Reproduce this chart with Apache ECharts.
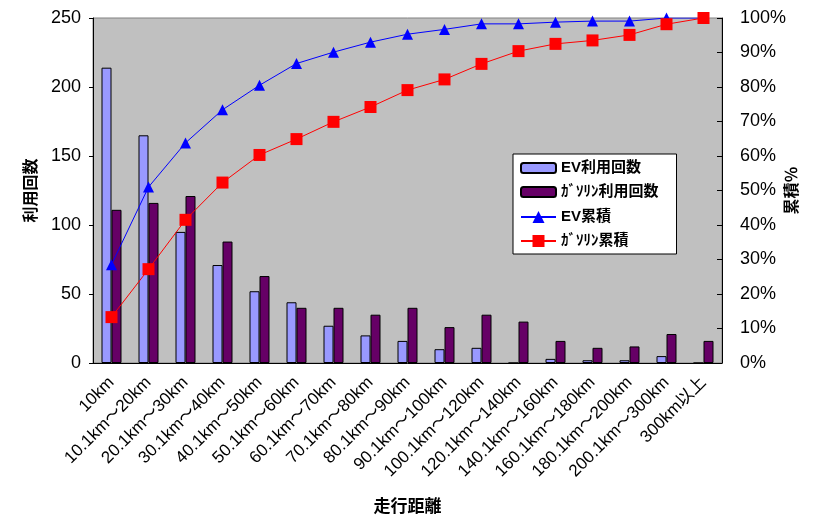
<!DOCTYPE html>
<html><head><meta charset="utf-8">
<script src="https://cdn.jsdelivr.net/npm/echarts@6/dist/echarts.min.js"></script>
<style>html,body{margin:0;padding:0;background:#fff}#c{width:814px;height:517px}</style>
</head><body><div id="c"></div>
<script>
const categories = ['10km','10.1km～20km','20.1km～30km','30.1km～40km','40.1km～50km','50.1km～60km','60.1km～70km','70.1km～80km','80.1km～90km','90.1km～100km','100.1km～120km','120.1km～140km','140.1km～160km','160.1km～180km','180.1km～200km','200.1km～300km','300km以上'];
const evCount = [214,165,95,71,52,44,27,20,16,10,11,0,3,2,2,5,0];
const gasCount = [111,116,121,88,63,40,40,35,40,26,35,30,16,11,12,21,16];
const evCum = [28.5,51,63.8,73.4,80.5,86.8,90.1,93,95.3,96.7,98.3,98.3,98.8,99.1,99.1,100,100];
const gasCum = [13.3,27.2,41.5,52.3,60.3,64.9,69.9,74.2,79.1,82.2,86.7,90.4,92.5,93.5,95.1,98.2,100];
const leftTicks = {min:0, max:250, interval:50};
const rightTicks = {min:0, max:100, interval:10};

const FONT = '"Liberation Sans", "Noto Sans CJK JP", sans-serif';
const legendText = {fontFamily:FONT, fontSize:15, fontWeight:'bold', color:'#000', lineHeight:18};
const chart = echarts.init(document.getElementById('c'), null, {renderer:'canvas'});
chart.setOption({
  animation:false,
  textStyle:{fontFamily:FONT, color:'#000'},
  grid:{left:93, right:92, top:18, bottom:154, outerBoundsMode:'none', containLabel:false,
        show:true, backgroundColor:'#C0C0C0', borderColor:'#808080', borderWidth:1},
  legend:[{
    orient:'vertical', left:513, top:154,
    backgroundColor:'#fff', borderColor:'#000', borderWidth:1,
    padding:[5,18,53,7], itemGap:6, itemWidth:35, itemHeight:10,
    textStyle:legendText,
    data:['EV利用回数','ｶﾞｿﾘﾝ利用回数']
  },{
    orient:'vertical', left:513, top:208,
    padding:[0,0,0,7], itemGap:6, itemWidth:35, itemHeight:15,
    textStyle:legendText,
    data:['EV累積','ｶﾞｿﾘﾝ累積']
  }],
  xAxis:{
    type:'category', data:categories, boundaryGap:true,
    name:'走行距離', nameLocation:'middle', nameGap:136, nameMoveOverlap:false,
    nameTextStyle:{fontFamily:FONT, fontSize:17, fontWeight:'bold', color:'#000'},
    axisLine:{lineStyle:{color:'#000', width:1}},
    axisTick:{inside:true, length:5, alignWithLabel:false, lineStyle:{color:'#000'}},
    axisLabel:{rotate:45, interval:0, fontSize:17, color:'#000', margin:17, fontFamily:FONT},
    splitLine:{show:false}
  },
  yAxis:[{
    type:'value', min:leftTicks.min, max:leftTicks.max, interval:leftTicks.interval,
    name:'利用回数', nameLocation:'middle', nameGap:53, nameRotate:90, nameMoveOverlap:false,
    nameTextStyle:{fontFamily:FONT, fontSize:16, fontWeight:'bold', color:'#000'},
    axisLine:{show:true, lineStyle:{color:'#000'}},
    axisTick:{show:true, length:4, lineStyle:{color:'#000'}},
    axisLabel:{fontSize:18, color:'#000', margin:12, fontFamily:FONT},
    splitLine:{show:false}
  },{
    type:'value', min:rightTicks.min, max:rightTicks.max, interval:rightTicks.interval,
    name:'累積％', nameLocation:'middle', nameGap:63, nameRotate:90, nameMoveOverlap:false,
    nameTextStyle:{fontFamily:FONT, fontSize:16, fontWeight:'bold', color:'#000'},
    axisLine:{show:true, lineStyle:{color:'#000'}},
    axisTick:{show:true, inside:true, length:5, lineStyle:{color:'#000'}},
    axisLabel:{fontSize:18, color:'#000', margin:18, formatter:'{value}%', fontFamily:FONT},
    splitLine:{show:false}
  }],
  series:[
    {name:'EV利用回数', type:'bar', data:evCount, barWidth:10, barGap:'0%',
     itemStyle:{color:'#9999FF', borderColor:'#000', borderWidth:1}},
    {name:'ｶﾞｿﾘﾝ利用回数', type:'bar', data:gasCount, barWidth:10, barGap:'0%',
     itemStyle:{color:'#660066', borderColor:'#000', borderWidth:1}},
    {name:'EV累積', type:'line', yAxisIndex:1, data:evCum, symbol:'triangle', symbolSize:11,
     lineStyle:{color:'#0000FF', width:1}, itemStyle:{color:'#0000FF'}},
    {name:'ｶﾞｿﾘﾝ累積', type:'line', yAxisIndex:1, data:gasCum, symbol:'rect', symbolSize:12,
     lineStyle:{color:'#FF0000', width:1}, itemStyle:{color:'#FF0000'}}
  ]
});
</script></body></html>
